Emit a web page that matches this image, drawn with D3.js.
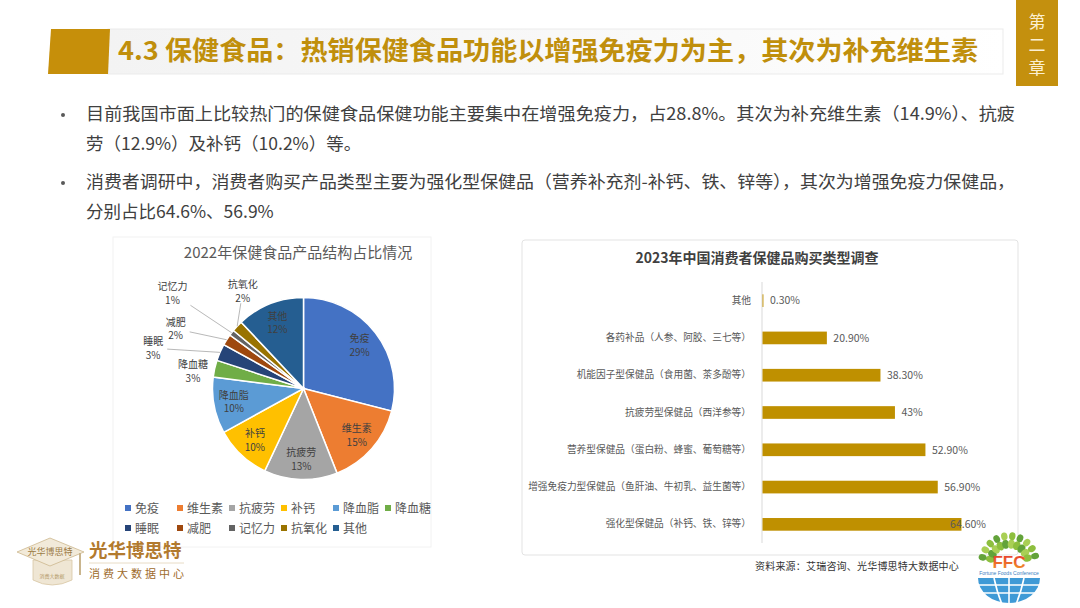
<!DOCTYPE html>
<html>
<head>
<meta charset="utf-8">
<script src="https://cdn.jsdelivr.net/npm/d3@7"></script>
<style>
  body { margin: 0; background: #fff; }
  svg { display: block; font-family: "Noto Sans CJK SC", "Noto Sans", sans-serif; }
</style>
</head>
<body>
<svg id="slide" width="1080" height="608"></svg>
<script>
// ---- data ----
const pieNames = ['免疫', '维生素', '抗疲劳', '补钙', '降血脂', '降血糖', '睡眠', '减肥', '记忆力', '抗氧化', '其他'];
const pieValues = [29, 15, 13, 10, 10, 3, 3, 2, 1, 2, 12];
const pieColors = ['#4472C4', '#ED7D31', '#A5A5A5', '#FFC000', '#5B9BD5', '#70AD47',
                   '#264478', '#9E480E', '#636363', '#997300', '#255E91'];

const barCategories = [
    '其他',
    '各药补品（人参、阿胶、三七等）',
    '机能因子型保健品（食用菌、茶多酚等）',
    '抗疲劳型保健品（西洋参等）',
    '营养型保健品（蛋白粉、蜂蜜、葡萄糖等）',
    '增强免疫力型保健品（鱼肝油、牛初乳、益生菌等）',
    '强化型保健品（补钙、铁、锌等）'
];
const barValues = [0.3, 20.9, 38.3, 43, 52.9, 56.9, 64.6];
const barLabels = ['0.30%', '20.90%', '38.30%', '43%', '52.90%', '56.90%', '64.60%'];

const bulletLines = [
    '目前我国市面上比较热门的保健食品保健功能主要集中在增强免疫力，占28.8%。其次为补充维生素（14.9%）、抗疲',
    '劳（12.9%）及补钙（10.2%）等。',
    '消费者调研中，消费者购买产品类型主要为强化型保健品（营养补充剂-补钙、铁、锌等），其次为增强免疫力保健品，',
    '分别占比64.6%、56.9%'
];

// where the small slices put their labels (radius factor, angle in degrees)
const outsideLabels = {
    '降血糖': { r: 1.23, a: 279, leader: false },
    '睡眠':   { r: 1.71, a: 285, leader: true },
    '减肥':   { r: 1.55, a: 295, leader: true },
    '记忆力': { r: 1.78, a: 306, leader: true },
    '抗氧化': { r: 1.26, a: 328, leader: true }
};

const gold = '#C08F0C';
const svg = d3.select('#slide');

// ---- header ----
const defs = svg.append('defs');
const band = defs.append('linearGradient').attr('id', 'band').attr('x1', '0%').attr('x2', '100%');
band.append('stop').attr('offset', '0%').attr('stop-color', '#f3f3f3');
band.append('stop').attr('offset', '70%').attr('stop-color', '#fafafa');
band.append('stop').attr('offset', '100%').attr('stop-color', '#ffffff');

svg.append('rect')
    .attr('x', 108).attr('y', 29).attr('width', 895).attr('height', 45)
    .attr('fill', 'url(#band)')
    .attr('stroke', '#ebebeb').attr('stroke-width', 1);

svg.append('path')
    .attr('d', 'M51,29 L110,29 L108,74 L48,74 Z')
    .attr('fill', '#C68F0A');

svg.append('text')
    .attr('x', 118).attr('y', 60)
    .attr('font-size', 26).attr('font-weight', 'bold')
    .attr('fill', gold)
    .attr('textLength', 860).attr('lengthAdjust', 'spacingAndGlyphs')
    .text('4.3 保健食品：热销保健食品功能以增强免疫力为主，其次为补充维生素');

// chapter tab
svg.append('rect')
    .attr('x', 1016).attr('y', 0).attr('width', 42).attr('height', 86)
    .attr('fill', '#C4900E');
svg.append('g')
    .selectAll('text')
    .data(['第', '二', '章'])
    .join('text')
        .attr('x', 1037)
        .attr('y', (d, i) => 28 + i * 23)
        .attr('text-anchor', 'middle')
        .attr('font-size', 17)
        .attr('fill', '#fbefd2')
        .text(d => d);

// ---- bullets ----
const bulletY = [114, 144, 182, 212];
const bullets = svg.append('g').attr('fill', '#404040').attr('font-size', 17.5);
bulletLines.forEach((line, i) => {
    const t = bullets.append('text')
        .attr('x', 86).attr('y', bulletY[i] + 6)
        .text(line);
    if (i === 0 || i === 2) t.attr('textLength', 929).attr('lengthAdjust', 'spacingAndGlyphs');
});
[0, 2].forEach(i => {
    bullets.append('circle')
        .attr('cx', 63).attr('cy', bulletY[i] + 1)
        .attr('r', 2).attr('fill', '#595959');
});

// ---- left chart: pie ----
svg.append('rect')
    .attr('x', 113).attr('y', 237).attr('width', 318).attr('height', 310)
    .attr('fill', '#fff').attr('stroke', '#f2f2f2');

svg.append('text')
    .attr('x', 298).attr('y', 258)
    .attr('text-anchor', 'middle')
    .attr('font-size', 15)
    .attr('fill', '#595959')
    .text('2022年保健食品产品结构占比情况');

const pieCx = 303.5, pieCy = 388.5, radius = 91;
const pieData = pieNames.map((name, i) => ({ name, value: pieValues[i], color: pieColors[i] }));
const arcs = d3.pie().sort(null).value(d => d.value)(pieData);
const arc = d3.arc().innerRadius(0).outerRadius(radius);
const labelArc = d3.arc().innerRadius(radius * 0.78).outerRadius(radius * 0.78);

const pieG = svg.append('g').attr('transform', `translate(${pieCx}, ${pieCy})`);

pieG.selectAll('path')
    .data(arcs)
    .join('path')
        .attr('d', arc)
        .attr('fill', d => d.data.color)
        .attr('stroke', '#fff')
        .attr('stroke-width', 1.5);

function polar(r, deg) {
    const a = deg * Math.PI / 180;
    return [r * Math.sin(a), -r * Math.cos(a)];
}

arcs.forEach(d => {
    const out = outsideLabels[d.data.name];
    let pos;
    if (out) {
        pos = polar(radius * out.r, out.a);
        if (out.leader) {
            const mid = (d.startAngle + d.endAngle) / 2 * 180 / Math.PI;
            const target = polar(radius, mid);
            const hw = d.data.name.length * 5.5 + 3, hh = 12;
            const dx = target[0] - pos[0], dy = target[1] - pos[1];
            const s = Math.min(hw / Math.abs(dx || 1e-6), hh / Math.abs(dy || 1e-6));
            pieG.append('line')
                .attr('x1', pos[0] + dx * s).attr('y1', pos[1] + dy * s)
                .attr('x2', target[0]).attr('y2', target[1])
                .attr('stroke', '#a6a6a6').attr('stroke-width', 0.8);
        }
    } else {
        pos = labelArc.centroid(d);
    }
    [d.data.name, d.data.value + '%'].forEach((line, k) => {
        pieG.append('text')
            .attr('x', pos[0])
            .attr('y', pos[1] - 3 + k * 13.5)
            .attr('text-anchor', 'middle')
            .attr('font-size', 10)
            .attr('fill', '#404040')
            .text(line);
    });
});

// legend
const legend = svg.append('g')
    .selectAll('g')
    .data(pieData)
    .join('g')
        .attr('transform', (d, i) => `translate(${125 + (i % 6) * 52}, ${508 + Math.floor(i / 6) * 20})`);
legend.append('rect')
    .attr('x', 0).attr('y', -3).attr('width', 6).attr('height', 6)
    .attr('fill', d => d.color);
legend.append('text')
    .attr('x', 10).attr('y', 4.5)
    .attr('font-size', 12)
    .attr('fill', '#595959')
    .text(d => d.name);

// ---- right chart: bars ----
svg.append('rect')
    .attr('x', 522).attr('y', 240).attr('width', 496).attr('height', 315)
    .attr('rx', 3)
    .attr('fill', '#fff').attr('stroke', '#e3e3e3');

svg.append('text')
    .attr('x', 757).attr('y', 263)
    .attr('text-anchor', 'middle')
    .attr('font-size', 14).attr('font-weight', 'bold')
    .attr('fill', '#404040')
    .text('2023年中国消费者保健品购买类型调查');

const x = d3.scaleLinear().domain([0, 70]).range([762, 977.6]);
const y = d3.scaleBand().domain(barCategories).range([282, 543]).paddingInner(0.66).paddingOuter(0.33);
const plotRight = 986;

svg.append('g')
    .attr('transform', `translate(${x(0)}, 0)`)
    .call(d3.axisLeft(y).tickSize(0).tickPadding(11))
    .call(g => g.select('.domain').attr('stroke', '#d9d9d9').attr('d', 'M0,282V543'))
    .call(g => g.selectAll('text')
        .attr('font-size', 9.7)
        .attr('fill', '#595959')
        .attr('font-family', '"Noto Sans CJK SC", sans-serif'));

const barG = svg.append('g');
barG.selectAll('rect')
    .data(barValues)
    .join('rect')
        .attr('x', x(0) + 0.5)
        .attr('y', (d, i) => y(barCategories[i]))
        .attr('width', d => x(d) - x(0))
        .attr('height', y.bandwidth())
        .attr('fill', '#BF9000');

barG.selectAll('text')
    .data(barValues)
    .join('text')
        .attr('y', (d, i) => y(barCategories[i]) + y.bandwidth() / 2 + 3.8)
        .attr('font-size', 10.5)
        .attr('fill', '#595959')
        .text((d, i) => barLabels[i])
        .attr('x', function(d) {
            const w = this.getComputedTextLength();
            return Math.min(x(d) + 7, plotRight - w);
        });

// ---- footer ----
svg.append('text')
    .attr('x', 755).attr('y', 570)
    .attr('font-size', 10)
    .attr('fill', '#333')
    .attr('letter-spacing', 0.2)
    .text('资料来源：艾瑞咨询、光华博思特大数据中心');

// left logo: graduation cap
const cap = svg.append('g');
cap.append('path')
    .attr('d', 'M33,560 L33,580 Q52,590 72,580 L72,560 Z')
    .attr('fill', '#efe6d4').attr('stroke', '#d8c7a4').attr('stroke-width', 0.8);
cap.append('path')
    .attr('d', 'M17,552 L50,538 L84,552 L50,566 Z')
    .attr('fill', '#f2ead9').attr('stroke', '#cdb78e').attr('stroke-width', 0.8);
cap.append('text')
    .attr('x', 50).attr('y', 555)
    .attr('text-anchor', 'middle')
    .attr('font-size', 9).attr('fill', '#9b7a45')
    .text('光华博思特');
cap.append('line')
    .attr('x1', 80).attr('y1', 553).attr('x2', 80).attr('y2', 575)
    .attr('stroke', '#c9b58e').attr('stroke-width', 2);
cap.append('text')
    .attr('x', 52).attr('y', 578)
    .attr('text-anchor', 'middle')
    .attr('font-size', 5).attr('fill', '#b49a6a')
    .text('消费大数据');

svg.append('text')
    .attr('x', 89).attr('y', 557)
    .attr('font-size', 18.5).attr('font-weight', 'bold')
    .attr('fill', '#B27A2E')
    .text('光华博思特');
svg.append('line')
    .attr('x1', 89).attr('y1', 563).attr('x2', 184).attr('y2', 563)
    .attr('stroke', '#e2d3b8').attr('stroke-width', 0.8);
svg.append('text')
    .attr('x', 89).attr('y', 578)
    .attr('font-size', 11)
    .attr('letter-spacing', 3)
    .attr('fill', '#9E6B2C')
    .text('消费大数据中心');

// right logo: FFC
const ffc = svg.append('g').attr('transform', 'translate(1009, 566)');
const leafColors = ['#8dbf3e', '#63a33a', '#a9cf55'];
d3.range(-78, 80, 17).forEach((a, i) => {
    [19, 27].forEach((r, j) => {
        const p = polar(r, a);
        ffc.append('ellipse')
            .attr('cx', p[0]).attr('cy', p[1] - 3)
            .attr('rx', 3.6 - j * 0.4).attr('ry', 4.6 - j * 0.6)
            .attr('transform', `rotate(${a}, ${p[0]}, ${p[1] - 3})`)
            .attr('fill', leafColors[(i + j) % 3]);
    });
});
const ffcGrad = defs.append('linearGradient').attr('id', 'ffcGrad').attr('x1', '0%').attr('x2', '0%').attr('y1', '0%').attr('y2', '100%');
ffcGrad.append('stop').attr('offset', '0%').attr('stop-color', '#e5322d');
ffcGrad.append('stop').attr('offset', '100%').attr('stop-color', '#f3a12a');
ffc.append('text')
    .attr('x', 0).attr('y', 2)
    .attr('text-anchor', 'middle')
    .attr('font-size', 17).attr('font-weight', 'bold')
    .attr('font-family', 'Liberation Sans, Arial, sans-serif')
    .attr('fill', 'url(#ffcGrad)')
    .text('FFC');
ffc.append('text')
    .attr('x', 0).attr('y', 9)
    .attr('text-anchor', 'middle')
    .attr('font-size', 5)
    .attr('font-family', 'Liberation Sans, Arial, sans-serif')
    .attr('fill', '#3b7fbf')
    .text('Fortune Foods Conference');
ffc.append('path')
    .attr('d', 'M-31,12 L31,12 A31,25 0 0 1 -31,12 Z')
    .attr('fill', '#3f9ad6');
[19, 27].forEach(yy => {
    ffc.append('line')
        .attr('x1', -31).attr('x2', 31).attr('y1', yy).attr('y2', yy)
        .attr('stroke', '#fff').attr('stroke-width', 1.6);
});
[-15, 0, 15].forEach(xx => {
    ffc.append('path')
        .attr('d', `M${xx},12 Q${xx * 0.8},26 ${xx * 0.5},37`)
        .attr('fill', 'none').attr('stroke', '#fff').attr('stroke-width', 1.6);
});
</script>
</body>
</html>
